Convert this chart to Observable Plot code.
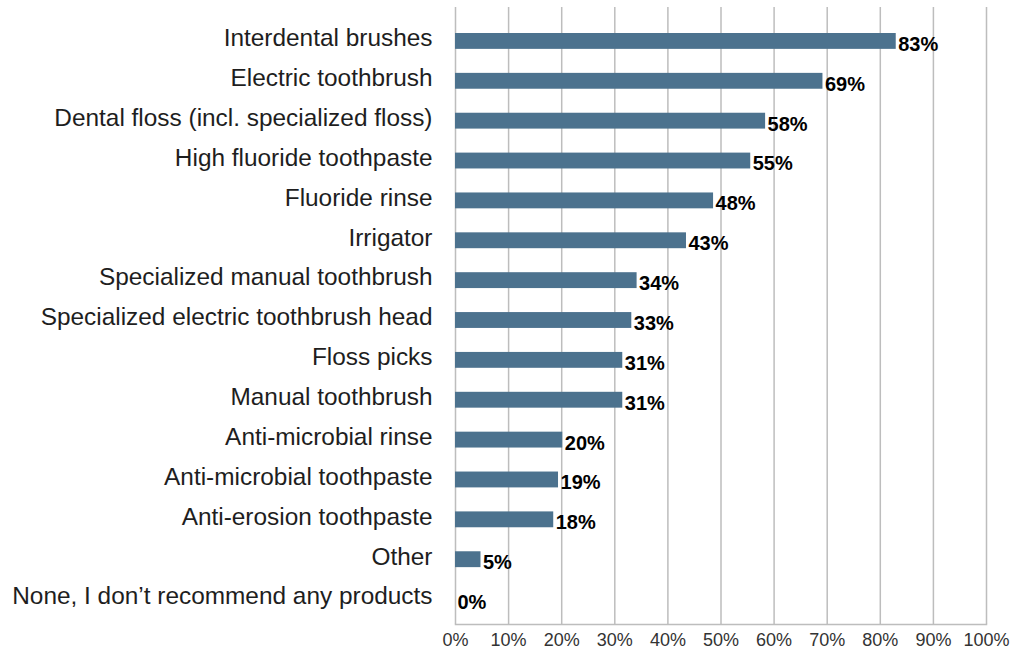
<!DOCTYPE html>
<html>
<head>
<meta charset="utf-8">
<script src="https://cdn.jsdelivr.net/npm/d3@7"></script>
<script src="https://cdn.jsdelivr.net/npm/@observablehq/plot@0.6"></script>
<style>
  html, body { margin: 0; padding: 0; background: #fff; }
  svg { display: block; }
</style>
</head>
<body>
<div id="chart"></div>
<script>
const categories = [
  "Interdental brushes",
  "Electric toothbrush",
  "Dental floss (incl. specialized floss)",
  "High fluoride toothpaste",
  "Fluoride rinse",
  "Irrigator",
  "Specialized manual toothbrush",
  "Specialized electric toothbrush head",
  "Floss picks",
  "Manual toothbrush",
  "Anti-microbial rinse",
  "Anti-microbial toothpaste",
  "Anti-erosion toothpaste",
  "Other",
  "None, I don\u2019t recommend any products"
];
// bar lengths (percent)
const values = [83, 69.2, 58.4, 55.6, 48.6, 43.5, 34.2, 33.2, 31.5, 31.5, 20.2, 19.4, 18.5, 4.8, 0];
// value labels as printed on the chart
const valueLabels = ["83%", "69%", "58%", "55%", "48%", "43%", "34%", "33%", "31%", "31%", "20%", "19%", "18%", "5%", "0%"];
const xTicks = [0, 10, 20, 30, 40, 50, 60, 70, 80, 90, 100];

const data = categories.map((c, i) => ({category: c, value: values[i], label: valueLabels[i]}));

const chart = Plot.plot({
  width: 1014,
  height: 649,
  marginLeft: 455,
  marginRight: 28,
  marginTop: 7,
  marginBottom: 25,
  style: {fontFamily: "'Liberation Sans', Arial, sans-serif", background: "#fff"},
  x: {domain: [0, 100]},
  y: {domain: categories, padding: 0, round: false, insetTop: 14, insetBottom: 5},
  marks: [
    Plot.ruleX(xTicks, {stroke: "#bdbdbd", strokeWidth: 1.5}),
    Plot.frame({anchor: "bottom", stroke: "#bdbdbd", strokeWidth: 1.5}),
    Plot.barX(data, {x: "value", y: "category", fill: "#4c728e", insetTop: 12, insetBottom: 12}),
    Plot.text(data, {x: "value", y: "category", text: "label", textAnchor: "start", dx: 2, dy: 3, fontSize: 20, fontWeight: "bold", fill: "#000"}),
    Plot.axisY({tickSize: 0, tickPadding: 23, fontSize: 24.4, dy: -3, fill: "#1e1e1e", label: null}),
    Plot.axisX({ticks: xTicks, tickSize: 0, tickPadding: 9, fontSize: 18, fill: "#333", tickFormat: d => d + "%", label: null})
  ]
});
document.getElementById("chart").appendChild(chart);
</script>
</body>
</html>
